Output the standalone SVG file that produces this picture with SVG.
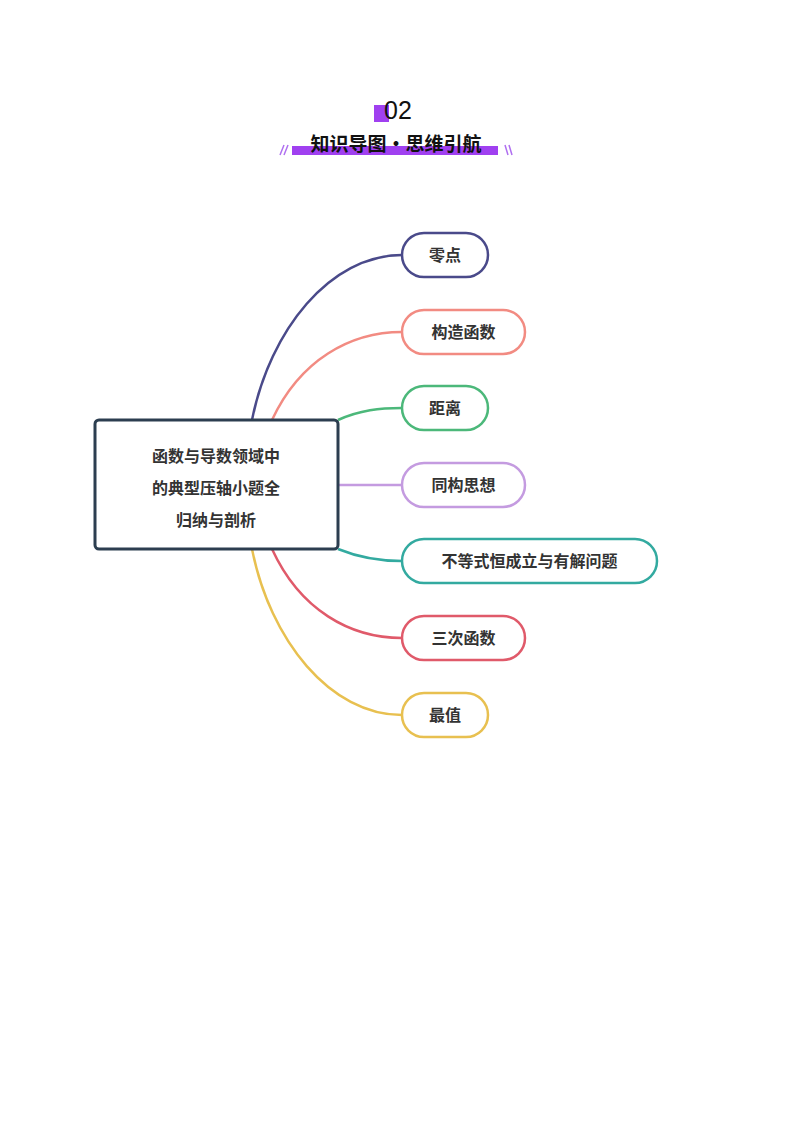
<svg xmlns="http://www.w3.org/2000/svg" width="800" height="1132" viewBox="0 0 800 1132">
<style>
.n{fill:#fff;stroke-width:2.5}
.t{font-family:"Noto Sans CJK SC","Noto Sans",sans-serif;font-weight:bold;font-size:16px;fill:#333}
.c{fill:none;stroke-width:2.5}
</style>
<rect width="800" height="1132" fill="#fff"/>
<g id="title">
<rect x="374" y="105" width="15" height="17" fill="#a040f0"/>
<text x="398" y="119" text-anchor="middle" font-family="Liberation Sans,sans-serif" font-size="25" fill="#111">02</text>
<rect x="292" y="146" width="206" height="9" fill="#a040f0"/>
<text x="396" y="151" text-anchor="middle" font-family="Noto Sans CJK SC,sans-serif" font-weight="bold" font-size="19" fill="#111">知识导图·思维引航</text>
<path d="M280 155L284 145M284 155L288 145M505 145L508 155M509 145L512 155" stroke="#b070f0" stroke-width="1.5"/>
</g>
<g id="connectors">
<path class="c" stroke="#4a4a8a" d="M252 420C270 330 330 255 402 255"/>
<path class="c" stroke="#f28b82" d="M272 420C300 360 350 332 402 332"/>
<path class="c" stroke="#4cb87a" d="M338 420C360 410 380 408 402 408"/>
<path class="c" stroke="#c49be0" d="M338 485H402"/>
<path class="c" stroke="#33aaa0" d="M338 549C360 558 380 561 402 561"/>
<path class="c" stroke="#e05a6a" d="M272 549C300 610 350 638 402 638"/>
<path class="c" stroke="#e8c050" d="M252 549C270 640 330 715 402 715"/>
</g>
<g id="root">
<rect x="95" y="420" width="243" height="129" rx="4" fill="#fff" stroke="#2c3e50" stroke-width="3"/>
<text class="t" font-size="21" text-anchor="middle" x="216"><tspan x="216" y="462">函数与导数领域中</tspan><tspan x="216" y="494">的典型压轴小题全</tspan><tspan x="216" y="526">归纳与剖析</tspan></text>
</g>
<g id="n1"><rect class="n" stroke="#4a4a8a" x="402" y="233" width="86" height="44" rx="22"/><text class="t" x="445" y="261" text-anchor="middle">零点</text></g>
<g id="n2"><rect class="n" stroke="#f28b82" x="402" y="310" width="123" height="44" rx="22"/><text class="t" x="463.5" y="338" text-anchor="middle">构造函数</text></g>
<g id="n3"><rect class="n" stroke="#4cb87a" x="402" y="386" width="86" height="44" rx="22"/><text class="t" x="445" y="414" text-anchor="middle">距离</text></g>
<g id="n4"><rect class="n" stroke="#c49be0" x="402" y="463" width="123" height="44" rx="22"/><text class="t" x="463.5" y="491" text-anchor="middle">同构思想</text></g>
<g id="n5"><rect class="n" stroke="#33aaa0" x="402" y="539" width="255" height="44" rx="22"/><text class="t" x="529.5" y="567" text-anchor="middle">不等式恒成立与有解问题</text></g>
<g id="n6"><rect class="n" stroke="#e05a6a" x="402" y="616" width="123" height="44" rx="22"/><text class="t" x="463.5" y="644" text-anchor="middle">三次函数</text></g>
<g id="n7"><rect class="n" stroke="#e8c050" x="402" y="693" width="86" height="44" rx="22"/><text class="t" x="445" y="721" text-anchor="middle">最值</text></g>
</svg>
